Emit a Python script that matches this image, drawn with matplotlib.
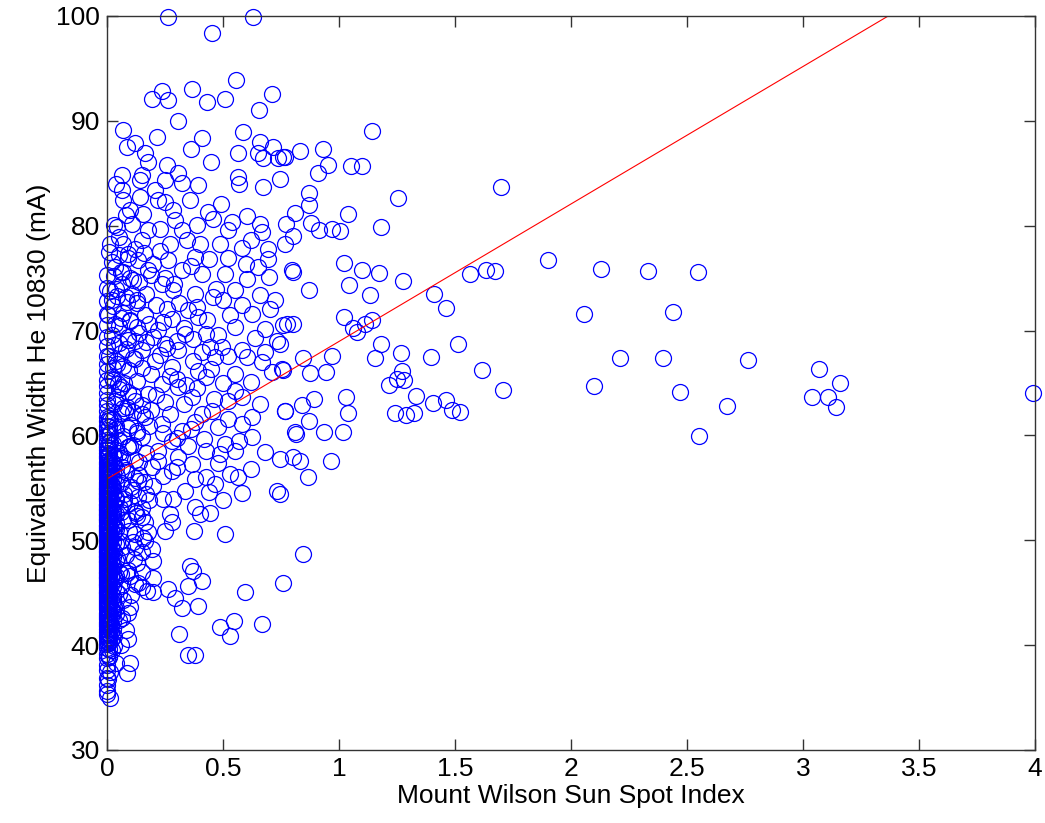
import numpy as np
import matplotlib
matplotlib.use("Agg")
import matplotlib.pyplot as plt

plt.rcParams["font.family"] = ["Liberation Sans", "DejaVu Sans"]
plt.rcParams["font.size"] = 19

# points with large spot index
hi_x = [1.697, 1.902, 1.632, 1.672, 1.565, 2.128, 2.333, 2.546, 2.057, 2.44,
        1.615, 1.706, 2.21, 2.398, 2.762, 2.10, 2.468, 2.671, 2.552, 3.07,
        3.161, 3.037, 3.106, 3.144, 3.993,
        1.022, 1.098, 1.174, 0.803, 1.277, 1.045, 0.871, 1.134, 1.411, 1.461,
        1.023, 1.059, 1.079, 1.112, 1.141, 0.76, 0.803, 0.746, 1.181, 1.512,
        0.846, 0.971, 1.155, 1.266, 1.398, 0.76, 0.875, 0.944, 1.27, 1.249,
        1.28, 1.217, 1.332, 1.407, 1.46, 1.486, 1.522, 1.241, 1.289, 1.325,
        1.030, 1.04, 0.767, 0.839, 0.894, 0.872, 0.815, 0.935, 1.019, 0.803,
        0.832, 0.746, 0.966, 0.868, 0.746, 0.843,
        1.141, 0.832, 0.932, 0.76, 0.954, 0.908, 1.052, 1.10, 0.746, 0.872,
        0.871, 1.253, 0.81, 1.04, 0.772, 0.879, 0.914, 0.969, 1.004, 1.18,
        0.803]
hi_y = [83.7, 76.76, 75.8, 75.7, 75.4, 75.9, 75.7, 75.55, 71.6, 71.8,
        66.2, 64.35, 67.4, 67.4, 67.2, 64.7, 64.15, 62.85, 59.98, 66.35,
        64.98, 63.7, 63.7, 62.75, 64.0,
        76.44, 75.8, 75.5, 75.6, 74.72, 74.3, 73.9, 73.35, 73.45, 72.18,
        71.28, 70.27, 69.9, 70.6, 70.97, 70.5, 70.6, 68.7, 68.74, 68.74,
        67.4, 67.53, 67.4, 67.88, 67.46, 66.28, 65.97, 66.03, 66.12, 65.4,
        65.3, 64.83, 63.74, 63.1, 63.4, 62.46, 62.27, 62.14, 61.9, 62.14,
        63.63, 62.14, 62.37, 62.94, 63.49, 61.41, 60.14, 60.3, 60.36, 57.9,
        57.6, 57.75, 57.53, 56.0, 54.4, 48.68,
        89.05, 87.14, 87.36, 86.56, 85.77, 85.07, 85.67, 85.67, 84.5, 83.12,
        81.95, 82.68, 81.25, 81.15, 80.2, 80.3, 79.56, 79.72, 79.47, 79.88,
        79.0]

# moderate spot index, 0 < x < 0.8
mid_x = [0.264, 0.631, 0.451, 0.555, 0.236, 0.195, 0.261, 0.368, 0.432, 0.509,
         0.71, 0.655, 0.307, 0.07, 0.214, 0.408, 0.588, 0.121, 0.0875, 0.36,
         0.164, 0.448, 0.563, 0.659, 0.717, 0.652, 0.674, 0.738, 0.767, 0.178,
         0.257, 0.304, 0.063, 0.149, 0.0375, 0.142, 0.25, 0.322, 0.394, 0.566,
         0.569, 0.674, 0.063, 0.207, 0.142, 0.221, 0.358, 0.491, 0.07, 0.099,
         0.156, 0.25, 0.286, 0.437, 0.458, 0.602, 0.013, 0.042, 0.106, 0.178,
         0.228, 0.293, 0.322, 0.387, 0.537, 0.523, 0.659, 0.667, 0.07, 0.149,
         0.272, 0.343, 0.401, 0.487, 0.58, 0.695, 0.767,
         0.796, 0.509, 0.602, 0.652, 0.695, 0.552, 0.724, 0.703, 0.58, 0.624,
         0.774, 0.681, 0.731, 0.552, 0.58, 0.602, 0.667, 0.753, 0.552, 0.466,
         0.494, 0.523, 0.58, 0.624, 0.767, 0.81, 0.624, 0.681, 0.487, 0.731,
         0.566, 0.451, 0.408, 0.379, 0.322, 0.427, 0.394, 0.372, 0.307, 0.25,
         0.221, 0.164, 0.394, 0.427, 0.444, 0.336, 0.35, 0.286, 0.379, 0.458,
         0.236, 0.178, 0.322, 0.408, 0.264, 0.379, 0.135, 0.034, 0.063, 0.106,
         0.02, 0.034, 0.092, 0.149, 0.207, 0.279, 0.236, 0.307, 0.365, 0.178,
         0.121, 0.049, 0.078, 0.164, 0.236, 0.279, 0.221, 0.149, 0.092, 0.307,
         0.365, 0.427, 0.466, 0.279, 0.193, 0.135, 0.336, 0.509, 0.427, 0.48,
         0.523,
         0.509, 0.376, 0.444, 0.401, 0.379, 0.279, 0.25, 0.272, 0.243, 0.286,
         0.178, 0.164, 0.193, 0.149, 0.2, 0.358, 0.372, 0.408, 0.35, 0.264,
         0.293, 0.322, 0.394, 0.2, 0.149, 0.171, 0.2, 0.149, 0.092, 0.063,
         0.595, 0.76, 0.487, 0.53, 0.549, 0.667, 0.31, 0.35, 0.379, 0.099,
         0.085, 0.006, 0.013, 0.002, 0.164, 0.121, 0.149, 0.121, 0.135]
mid_y = [99.93, 99.93, 98.35, 93.89, 92.87, 92.04, 91.98, 93.03, 91.82, 92.04,
         92.55, 91.02, 89.97, 89.1, 88.47, 88.4, 88.95, 87.9, 87.52, 87.27,
         86.89, 86.09, 86.95, 88.0, 87.52, 86.89, 86.41, 86.41, 86.56, 86.09,
         85.77, 84.98, 84.8, 84.8, 84.02, 84.33, 84.33, 84.1, 83.86, 84.66,
         84.02, 83.7, 83.38, 83.38, 82.74, 82.43, 82.43, 82.11, 82.43, 81.53,
         81.15, 82.26, 81.47, 81.31, 80.68, 80.9, 78.29, 79.88, 80.2, 79.56,
         79.72, 80.52, 79.56, 80.04, 80.35, 79.56, 80.2, 79.4, 78.29, 78.6,
         78.29, 78.6, 78.29, 78.29, 77.9, 77.81, 78.29,
         75.74, 75.42, 74.95, 76.06, 76.86, 73.83, 72.87, 72.08, 72.4, 71.6,
         70.65, 70.17, 69.05, 70.33, 68.1, 67.46, 66.98, 66.35, 65.87, 67.46,
         68.41, 63.32, 63.64, 61.73, 62.37, 60.3, 59.82, 58.39, 58.23, 54.73,
         56.0, 62.37, 62.05, 61.25, 60.46, 65.55, 66.19, 67.14, 68.1, 68.74,
         70.01, 71.44, 71.28, 69.69, 68.41, 69.69, 71.92, 73.83, 73.51, 73.19,
         74.47, 75.74, 75.74, 75.42, 76.7, 77.01, 76.7, 76.06, 74.47, 73.51,
         72.87, 70.65, 69.37, 68.1, 67.14, 66.5, 64.9, 64.59, 63.64, 63.96,
         63.32, 64.9, 62.37, 61.73, 61.09, 59.5, 58.55, 59.82, 58.86, 57.91,
         57.28, 56.0, 55.37, 56.64, 56.96, 55.68, 54.73, 59.18, 58.55, 60.78,
         61.57,
         50.59, 50.9, 52.56, 52.5, 53.14, 51.7, 50.84, 52.5, 53.93, 53.93,
         50.75, 49.95, 49.16, 48.84, 48.04, 47.56, 47.09, 46.13, 45.65, 45.34,
         44.54, 43.58, 43.74, 46.45, 46.93, 45.18, 45.02, 45.5, 43.1, 42.63,
         45.02, 45.97, 41.74, 40.88, 42.31, 42.0, 41.1, 39.06, 39.06, 38.33,
         37.37, 36.74, 35.0, 35.6, 51.7, 50.59, 52.18, 52.82, 54.1]

# extra points in the crowded band 0 < x < 0.7
crowd_x = [0.01, 0.05, 0.09, 0.12, 0.16, 0.2, 0.23, 0.03, 0.07, 0.1,
           0.14, 0.19, 0.25, 0.29, 0.015, 0.045, 0.085, 0.13, 0.17, 0.21,
           0.26, 0.31, 0.005, 0.06, 0.1, 0.13, 0.18, 0.24, 0.28, 0.33,
           0.02, 0.05, 0.08, 0.12, 0.17, 0.2, 0.26, 0.3, 0.01, 0.04,
           0.07, 0.11, 0.15, 0.19, 0.23, 0.27, 0.34, 0.025, 0.06, 0.09,
           0.13, 0.21, 0.25, 0.3, 0.03, 0.07, 0.11, 0.15, 0.19, 0.27,
           0.33, 0.015, 0.04, 0.09, 0.13, 0.18, 0.24, 0.3, 0.36, 0.05,
           0.1, 0.17, 0.22, 0.12, 0.08, 0.16, 0.2, 0.24, 0.11, 0.18,
           0.07, 0.15, 0.09, 0.12, 0.08, 0.1, 0.06, 0.13,
           0.36, 0.44, 0.47, 0.52, 0.39, 0.5, 0.43, 0.48, 0.53, 0.37,
           0.41, 0.52, 0.45, 0.5, 0.39, 0.55, 0.46, 0.58, 0.62, 0.64,
           0.66, 0.6, 0.7, 0.62, 0.68, 0.71, 0.66, 0.57, 0.62, 0.53,
           0.48, 0.42, 0.35, 0.3, 0.38, 0.44, 0.5, 0.58, 0.55,
           0.065, 0.14, 0.105, 0.17, 0.075, 0.125, 0.095, 0.155, 0.06, 0.115,
           0.085, 0.135, 0.07, 0.105, 0.05, 0.09]
crowd_y = [77.5, 77.2, 76.9, 77.8, 77.4, 76.3, 77.6, 75.2, 75.6, 75.0,
           74.6, 75.3, 75.0, 74.4, 73.8, 73.3, 72.7, 72.9, 73.5, 72.4,
           72.1, 72.6, 71.5, 71.2, 70.9, 70.3, 70.6, 70.8, 71.1, 70.2,
           69.6, 68.8, 68.2, 69.0, 68.9, 69.4, 68.3, 69.0, 67.6, 67.1,
           66.6, 67.4, 66.4, 65.9, 67.7, 65.7, 64.8, 65.3, 64.6, 64.1,
           65.2, 63.9, 63.2, 65.4, 63.0, 62.6, 62.2, 62.9, 62.4, 62.0,
           63.0, 61.5, 60.9, 60.7, 60.4, 60.9, 60.2, 59.8, 60.6, 59.6,
           59.0, 58.3, 57.6, 57.7, 56.5, 55.6, 55.2, 56.1, 54.8, 53.8,
           53.5, 53.1, 51.9, 49.4, 48.6, 46.6, 45.6, 47.8,
           76.2, 76.8, 74.0, 76.9, 72.2, 72.9, 71.0, 69.6, 71.5, 69.2,
           68.0, 67.6, 66.3, 65.0, 64.5, 64.2, 63.5, 61.1, 65.1, 69.3,
           73.4, 76.3, 75.1, 78.6, 68.0, 66.0, 63.0, 59.5, 56.8, 56.3,
           57.4, 59.7, 59.0, 57.0, 55.8, 54.6, 53.8, 54.5, 58.5,
           57.0, 56.2, 55.1, 54.4, 53.9, 52.6, 50.9, 50.2, 49.9, 48.2,
           46.9, 45.9, 44.3, 44.8, 42.4, 40.6]

# days with spot index practically zero (solid column at the left edge)
zero_y = [35.3, 36.2, 36.9, 37.6, 38.1, 38.8, 39.2, 39.7, 40.1, 40.4,
          40.8, 41.0, 41.3, 41.5, 41.8, 42.0, 42.2, 42.5, 42.7, 42.9,
          43.1, 43.4, 43.6, 43.8, 44.0, 44.2, 44.4, 44.6, 44.8, 45.0,
          45.1, 45.3, 45.5, 45.7, 45.8, 46.0, 46.2, 46.4, 46.5, 46.7,
          46.9, 47.0, 47.2, 47.4, 47.5, 47.7, 47.9, 48.0, 48.2, 48.4,
          48.5, 48.7, 48.9, 49.0, 49.2, 49.4, 49.5, 49.7, 49.9, 50.0,
          50.2, 50.4, 50.5, 50.7, 50.9, 51.0, 51.2, 51.4, 51.5, 51.7,
          51.9, 52.0, 52.2, 52.4, 52.5, 52.7, 52.9, 53.0, 53.2, 53.4,
          53.5, 53.7, 53.9, 54.0, 54.2, 54.4, 54.5, 54.7, 54.9, 55.0,
          55.2, 55.4, 55.6, 55.8, 56.0, 56.2, 56.4, 56.6, 56.8, 57.0,
          57.3, 57.5, 57.8, 58.0, 58.3, 58.6, 58.9, 59.3, 59.6, 60.0,
          60.5, 60.9, 61.4, 61.8, 62.3, 62.9, 63.4, 64.0, 64.7, 65.3,
          66.1, 66.8, 67.6, 68.5, 69.4, 70.5, 71.6, 72.8, 74.1, 75.3]

# index about 0.005, 0.01, 0.018, 0.025 and 0.04 (fills the column sideways)
x005_y = [40.2, 40.6, 41.1, 41.4, 41.9, 42.3, 42.6, 43.0, 43.5, 43.9,
          44.2, 44.7, 45.1, 45.4, 45.9, 46.3, 46.7, 47.0, 47.4, 47.9,
          48.3, 48.6, 49.0, 49.5, 49.8, 50.3, 50.6, 51.1, 51.4, 51.8,
          52.3, 52.7, 53.1, 53.4, 53.9, 54.3, 54.6, 55.0, 55.5, 55.8,
          56.3, 56.7, 57.1, 57.6, 58.1]
x01_y = [39.0, 39.6, 40.3, 40.7, 41.2, 41.6, 42.1, 42.4, 42.8, 43.3,
         43.7, 44.1, 44.5, 44.9, 45.4, 45.8, 46.1, 46.6, 47.1, 47.5,
         47.8, 48.3, 48.8, 49.1, 49.6, 50.0, 50.4, 50.9, 51.3, 51.6,
         52.1, 52.6, 53.0, 53.3, 53.8, 54.3, 54.6, 55.1, 55.5, 55.9,
         56.4, 56.9, 57.3, 57.7, 58.2, 58.8, 59.4, 60.1, 60.8, 61.7]
x018_y = [40.5, 41.3, 42.0, 42.7, 43.5, 44.3, 45.0, 45.7, 46.5, 47.3,
          48.0, 48.7, 49.5, 50.2, 51.0, 51.7, 52.4, 53.2, 53.9, 54.7,
          55.4, 56.1, 56.9, 57.6]
x025_y = [41.5, 42.3, 43.2, 44.0, 44.7, 45.5, 46.2, 46.9, 47.6, 48.4,
          49.1, 49.8, 50.6, 51.4, 52.1, 52.8, 53.6, 54.3, 55.1, 55.8,
          56.6, 57.4, 58.1, 59.2]
x04_y = [43.5, 45.2, 46.6, 48.0, 49.6, 51.1, 52.5, 54.0, 55.4, 56.9, 58.6]

# small but nonzero index, ragged right side of the column
low_x = [0.012, 0.02, 0.03, 0.015, 0.04, 0.025, 0.05, 0.01, 0.035, 0.06,
         0.02, 0.045, 0.03, 0.065, 0.015, 0.05, 0.035, 0.07, 0.025, 0.055,
         0.04, 0.075, 0.02, 0.06, 0.045, 0.08, 0.03, 0.065, 0.05, 0.09,
         0.015, 0.07, 0.04, 0.1, 0.025, 0.06, 0.085, 0.035, 0.11, 0.05,
         0.075, 0.02, 0.095, 0.045, 0.12, 0.06, 0.03, 0.09, 0.14, 0.05,
         0.1, 0.07, 0.025, 0.13, 0.08, 0.04, 0.11, 0.06, 0.02, 0.09,
         0.05, 0.03, 0.08,
         0.04, 0.06, 0.08, 0.1, 0.12, 0.09, 0.11, 0.13, 0.1, 0.12,
         0.14, 0.11, 0.13, 0.15, 0.01, 0.03, 0.02, 0.05, 0.01, 0.04,
         0.02, 0.06, 0.03, 0.015, 0.045, 0.025]
low_y = [37.4, 39.5, 40.9, 42.1, 43.0, 44.3, 44.9, 45.6, 46.3, 46.8,
         47.6, 48.3, 48.9, 49.4, 50.1, 50.8, 51.3, 51.9, 52.6, 53.1,
         53.8, 54.4, 55.0, 55.5, 56.1, 56.7, 57.2, 57.8, 58.3, 58.9,
         59.4, 59.9, 60.6, 61.0, 61.6, 62.1, 62.7, 63.3, 63.9, 64.4,
         65.0, 65.6, 66.2, 66.8, 67.3, 67.9, 68.6, 69.1, 69.8, 70.4,
         71.0, 71.7, 72.3, 72.6, 73.2, 74.0, 74.8, 75.6, 76.5, 77.3,
         78.9, 80.1, 81.0,
         38.3, 40.0, 41.4, 43.6, 45.8, 47.2, 49.8, 52.3, 53.6, 55.9,
         57.5, 59.1, 60.2, 62.0, 38.9, 39.9, 43.3, 47.0, 41.1, 51.6,
         55.3, 52.7, 57.9, 60.1, 63.7, 66.4]

# linear fit shown in red (intercept, slope)
fit_b0 = 55.85
fit_b1 = 13.11
fit_xr = [0.0, 4.0]

all_x = (hi_x + mid_x + crowd_x + [0.0] * len(zero_y)
         + [0.005] * len(x005_y) + [0.01] * len(x01_y)
         + [0.018] * len(x018_y) + [0.025] * len(x025_y)
         + [0.04] * len(x04_y) + low_x)
all_y = (hi_y + mid_y + crowd_y + zero_y + x005_y + x01_y + x018_y
         + x025_y + x04_y + low_y)

fig = plt.figure(figsize=(10.45, 8.23), dpi=100)
ax = fig.add_axes([0.1024, 0.0887, 0.888, 0.8919])

ax.plot(all_x, all_y, linestyle="none", marker="o", markersize=11.5,
        markerfacecolor="none", markeredgecolor="#0000ff",
        markeredgewidth=0.9, clip_on=False)

fx = np.array(fit_xr)
ax.plot(fx, fit_b0 + fit_b1 * fx, color="#ff0000", linewidth=0.8)

ax.set_xlim(0, 4)
ax.set_ylim(30, 100)
ax.set_xticks(np.arange(0, 4.01, 0.5))
ax.set_xticklabels(["0", "0.5", "1", "1.5", "2", "2.5", "3", "3.5", "4"])
ax.set_yticks(np.arange(30, 101, 10))
ax.tick_params(direction="in", length=8, width=1, color="#333333",
               top=True, right=True, labelsize=19, pad=5)
for s in ax.spines.values():
    s.set_linewidth(1.0)
    s.set_color("#333333")

ax.set_xlabel("Mount Wilson Sun Spot Index", fontsize=19, labelpad=2)
ax.set_ylabel("Equivalenth Width He 10830 (mA)", fontsize=19, labelpad=4)

fig.savefig("out.png", dpi=100)
